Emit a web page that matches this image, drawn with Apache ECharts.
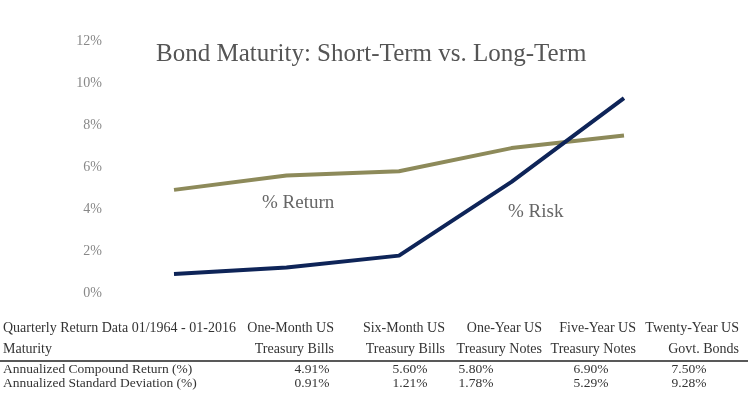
<!DOCTYPE html>
<html>
<head>
<meta charset="utf-8">
<script src="https://cdn.jsdelivr.net/npm/echarts@6/dist/echarts.min.js"></script>
<style>
  html, body { margin: 0; padding: 0; background: #fff; }
  #chart { width: 750px; height: 397px; }
</style>
</head>
<body>
<div id="chart"></div>
<script>
// data
const categories = ['One-Month US Treasury Bills', 'Six-Month US Treasury Bills', 'One-Year US Treasury Notes', 'Five-Year US Treasury Notes', 'Twenty-Year US Govt. Bonds']
const headerTop = ['One-Month US', 'Six-Month US', 'One-Year US', 'Five-Year US', 'Twenty-Year US']
const headerBottom = ['Treasury Bills', 'Treasury Bills', 'Treasury Notes', 'Treasury Notes', 'Govt. Bonds']
const returns = [4.91, 5.60, 5.80, 6.90, 7.50]
const risk = [0.91, 1.21, 1.78, 5.29, 9.28]
const yTicks = [0, 2, 4, 6, 8, 10, 12]

const FONT = '"Liberation Serif", "DejaVu Serif", serif'
const chart = echarts.init(document.getElementById('chart'))

// table columns (header text right edge / value centre)
const headerRight = [334, 445, 542, 636, 739]
const valueCenter = [312, 410, 476, 591, 689]

const tableText = (x, y, text, align, size) => ({
  type: 'text',
  x: x,
  y: y,
  style: {
    text: text,
    font: (size || 14) + 'px ' + FONT,
    fill: '#333',
    textAlign: align,
    textVerticalAlign: 'middle'
  }
})

const graphic = [
  tableText(3, 328, 'Quarterly Return Data 01/1964 - 01-2016', 'left', 14),
  tableText(3, 349, 'Maturity', 'left'),
  tableText(3, 369, 'Annualized Compound Return (%)', 'left', 13.5),
  tableText(3, 383, 'Annualized Standard Deviation (%)', 'left', 13.5),
  {
    type: 'line',
    shape: { x1: 0, y1: 361, x2: 748, y2: 361 },
    style: { stroke: '#222', lineWidth: 1.5 }
  },
  {
    type: 'text', x: 262, y: 203,
    style: { text: '% Return', font: '19px ' + FONT, fill: '#666', textVerticalAlign: 'middle' }
  },
  {
    type: 'text', x: 508, y: 212,
    style: { text: '% Risk', font: '19px ' + FONT, fill: '#666', textVerticalAlign: 'middle' }
  }
]
headerTop.forEach((t, i) => {
  graphic.push(tableText(headerRight[i], 328, t, 'right'))
  graphic.push(tableText(headerRight[i], 349, headerBottom[i], 'right'))
  graphic.push(tableText(valueCenter[i], 369, returns[i].toFixed(2) + '%', 'center', 13.5))
  graphic.push(tableText(valueCenter[i], 383, risk[i].toFixed(2) + '%', 'center', 13.5))
})

chart.setOption({
  backgroundColor: '#fff',
  animation: false,
  title: {
    text: 'Bond Maturity: Short-Term vs. Long-Term',
    left: 151,
    top: 37,
    textStyle: {
      fontFamily: FONT,
      fontSize: 25,
      fontWeight: 'normal',
      color: '#555'
    }
  },
  grid: {
    left: 174,
    right: 126,
    top: 41,
    height: 252
  },
  xAxis: {
    type: 'category',
    data: categories,
    boundaryGap: false,
    axisLine: { show: false },
    axisTick: { show: false },
    axisLabel: { show: false },
    splitLine: { show: false }
  },
  yAxis: {
    type: 'value',
    min: yTicks[0],
    max: yTicks[yTicks.length - 1],
    interval: 2,
    axisLine: { show: false },
    axisTick: { show: false },
    splitLine: { show: false },
    axisLabel: {
      margin: 72,
      formatter: '{value}%',
      fontFamily: FONT,
      fontSize: 14,
      color: '#888'
    }
  },
  series: [
    {
      name: '% Return',
      type: 'line',
      data: returns,
      symbol: 'none',
      lineStyle: { color: '#8d8a5a', width: 4 }
    },
    {
      name: '% Risk',
      type: 'line',
      data: risk,
      symbol: 'none',
      lineStyle: { color: '#0e2458', width: 4 }
    }
  ],
  graphic: graphic
})
</script>
</body>
</html>
